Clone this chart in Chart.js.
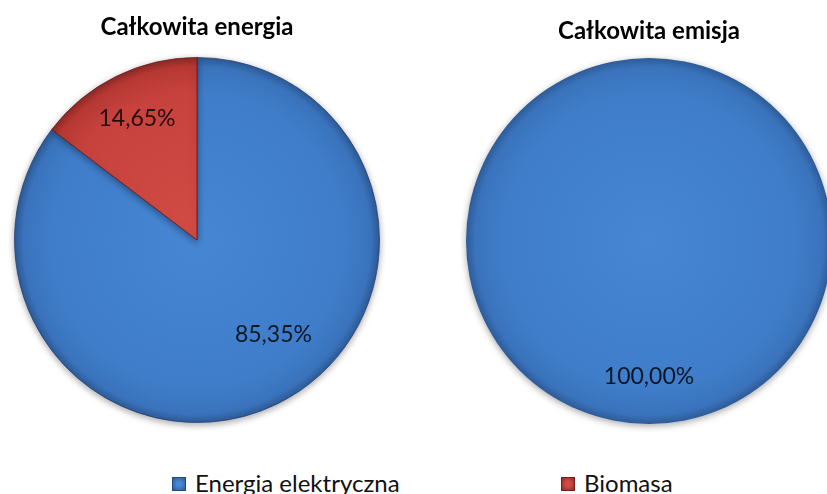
<!DOCTYPE html>
<html lang="pl">
<head>
    <meta charset="UTF-8">
    <title>Całkowita energia / emisja</title>
    <script src="https://cdn.jsdelivr.net/npm/chart.js"></script>
    <style>
        body {
            margin: 0;
            width: 827px;
            height: 494px;
            overflow: hidden;
            background: #fff;
            position: relative;
            font-family: 'Lato', sans-serif;
        }

        canvas {
            position: absolute;
        }

        #energyChart { left: 8px; top: 0; }
        #emissionChart { left: 460px; top: 0; }

        #legend {
            position: absolute;
            left: 172px;
            top: 468px;
            white-space: nowrap;
        }

        .legend-item {
            display: inline-block;
            width: 389px;
            font-size: 24px;
            line-height: 30px;
            color: #111;
        }

        .legend-box {
            display: inline-block;
            width: 12px;
            height: 12px;
            margin-right: 9px;
            vertical-align: 1px;
        }
    </style>
</head>
<body>
    <canvas id="energyChart" width="378" height="431"></canvas>
    <canvas id="emissionChart" width="378" height="432"></canvas>
    <div id="legend"></div>

    <script>
        // data
        const categories = ['Energia elektryczna', 'Biomasa'];
        const energyShare = [85.35, 14.65];    // Całkowita energia, %
        const emissionShare = [100.00, 0];     // Całkowita emisja, %
        const titles = ['Całkowita energia', 'Całkowita emisja'];

        // colours per category: centre, body, rim, edge
        const palette = [
            ['#4686d3', '#3f7dca', '#3a73bc', '#2d5b98'],
            ['#d24c46', '#c8423d', '#b63833', '#8c2a27']
        ];
        const borders = ['rgba(35, 60, 105, 0.75)', 'rgba(100, 25, 25, 0.75)'];

        function sliceFill(context) {
            const chart = context.chart;
            const area = chart.chartArea;
            const c = palette[context.dataIndex];
            if (!area) return c[1];
            const cx = (area.left + area.right) / 2;
            const cy = (area.top + area.bottom) / 2;
            const r = Math.min(area.width, area.height) / 2;
            const g = chart.ctx.createRadialGradient(cx, cy, 0, cx, cy, r);
            g.addColorStop(0, c[0]);
            g.addColorStop(0.8, c[1]);
            g.addColorStop(0.95, c[2]);
            g.addColorStop(1, c[3]);
            return g;
        }

        // no border on empty slices or on a slice that fills the whole pie
        function sliceBorder(context) {
            const values = context.dataset.data;
            const total = values.reduce((s, v) => s + v, 0);
            return context.raw && context.raw < total ? 1 : 0;
        }

        // soft shadow under the pie
        const pieShadow = {
            id: 'pieShadow',
            beforeDatasetsDraw(chart) {
                const ctx = chart.ctx;
                ctx.save();
                ctx.shadowColor = 'rgba(0, 0, 0, 0.35)';
                ctx.shadowBlur = 7;
                ctx.shadowOffsetY = 2;
            },
            afterDatasetsDraw(chart) {
                chart.ctx.restore();
            }
        };

        // percentage labels inside the slices
        const sliceLabels = {
            id: 'sliceLabels',
            afterDatasetsDraw(chart, args, opts) {
                const ctx = chart.ctx;
                const values = chart.data.datasets[0].data;
                ctx.save();
                ctx.font = '23px Lato';
                ctx.fillStyle = 'rgba(0, 0, 0, 0.82)';
                ctx.textAlign = 'center';
                ctx.textBaseline = 'middle';
                chart.getDatasetMeta(0).data.forEach((arc, i) => {
                    if (!values[i]) return;
                    const p = arc.getProps(['x', 'y', 'startAngle', 'endAngle', 'outerRadius'], true);
                    const shift = ((opts.shift || [])[i] || 0) * Math.PI / 180;
                    const a = (p.startAngle + p.endAngle) / 2 + shift;
                    const d = p.outerRadius * ((opts.dist || [])[i] || 0.72);
                    const text = values[i].toFixed(2).replace('.', ',') + '%';
                    ctx.fillText(text, p.x + Math.cos(a) * d, p.y + Math.sin(a) * d);
                });
                ctx.restore();
            }
        };

        function makePie(id, values, title, titlePad, labelOpts) {
            return new Chart(document.getElementById(id), {
                type: 'pie',
                data: {
                    labels: categories,
                    datasets: [{
                        data: values,
                        backgroundColor: sliceFill,
                        borderColor: borders,
                        borderWidth: sliceBorder
                    }]
                },
                options: {
                    responsive: false,
                    animation: false,
                    layout: { padding: { left: 6, right: 6, bottom: 8 } },
                    plugins: {
                        legend: { display: false },
                        tooltip: { enabled: false },
                        title: {
                            display: true,
                            text: title,
                            color: '#000',
                            font: { family: 'Lato', size: 24, weight: 'bold', lineHeight: 1.2 },
                            padding: titlePad
                        },
                        sliceLabels: labelOpts
                    }
                },
                plugins: [pieShadow, sliceLabels]
            });
        }

        makePie('energyChart', energyShare, titles[0], { top: 12.6, bottom: 15.6 },
            { dist: [0.666, 0.74], shift: [-12.6, 0] });
        makePie('emissionChart', emissionShare, titles[1], { top: 16.6, bottom: 12.6 },
            { dist: [0.74, 0.74], shift: [0, 0] });

        // legend under both pies
        const legend = document.getElementById('legend');
        categories.forEach((name, i) => {
            const item = document.createElement('span');
            item.className = 'legend-item';
            const box = document.createElement('span');
            box.className = 'legend-box';
            box.style.background = 'radial-gradient(circle, ' + palette[i][0] + ' 30%, ' + palette[i][3] + ')';
            box.style.border = '1px solid ' + borders[i];
            item.appendChild(box);
            item.appendChild(document.createTextNode(name));
            legend.appendChild(item);
        });
    </script>
</body>
</html>
